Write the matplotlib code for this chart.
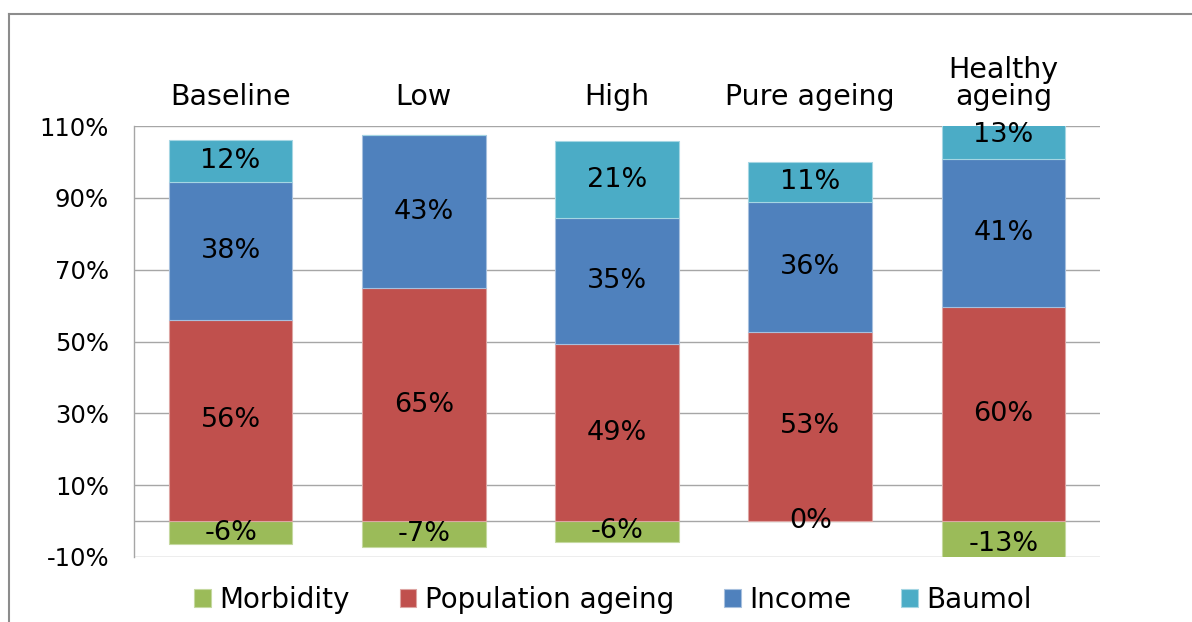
import matplotlib
matplotlib.use("Agg")
import matplotlib.pyplot as plt
from matplotlib.lines import Line2D
import numpy as np

categories = ["Baseline", "Low", "High", "Pure ageing", "Healthy\nageing"]
morbidity = [-6.4, -7.3, -5.7, 0.0, -13.0]
population_ageing = [56.1, 64.8, 49.2, 52.7, 59.7]
income = [38.3, 42.6, 35.2, 36.2, 41.2]
baumol = [11.8, np.nan, 21.3, 11.2, 13.0]
series_names = ["Morbidity", "Population ageing", "Income", "Baumol"]
colors = ["#9BBB59", "#C0504D", "#4F81BD", "#4BACC6"]
yticks = [-10, 10, 30, 50, 70, 90, 110]

plt.rcParams['font.family'] = ['DejaVu Sans']

fig = plt.figure(figsize=(11.92, 6.22), dpi=100)
ax = fig.add_axes([134/1192, 1 - 557/622, 966/1192, 431/622])

x = np.arange(len(categories))
w = 0.64

mb = ax.bar(x, morbidity, w, color=colors[0], edgecolor="#C5D9A0", linewidth=0.8, zorder=3,
            label=series_names[0])
pa = ax.bar(x, population_ageing, w, color=colors[1], edgecolor="#DDA5A3", linewidth=0.8, zorder=3,
            label=series_names[1])
base2 = np.array(population_ageing)
inc = ax.bar(x, income, w, bottom=base2, color=colors[2], edgecolor="#A7C0DE", linewidth=0.8, zorder=3,
             label=series_names[2])
base3 = base2 + np.array(income)
bm_vals = np.nan_to_num(np.array(baumol))
bm = ax.bar(x, bm_vals, w, bottom=base3, color=colors[3], edgecolor="#A5D6E3", linewidth=0.8, zorder=3,
            label=series_names[3])

lab_fs = 19.5
for i in range(len(categories)):
    ax.text(x[i], morbidity[i] / 2, f"{round(morbidity[i]):.0f}%", ha="center", va="center",
            fontsize=lab_fs, zorder=5, clip_on=False)
    ax.text(x[i], population_ageing[i] / 2, f"{round(population_ageing[i]):.0f}%", ha="center",
            va="center", fontsize=lab_fs, zorder=5)
    ax.text(x[i], base2[i] + income[i] / 2, f"{round(income[i]):.0f}%", ha="center",
            va="center", fontsize=lab_fs, zorder=5)
    if not np.isnan(baumol[i]):
        ax.text(x[i], base3[i] + baumol[i] / 2, f"{round(baumol[i]):.0f}%", ha="center",
                va="center", fontsize=lab_fs, zorder=5, clip_on=False)

ax.set_ylim(-10, 110)
ax.set_xlim(-0.5, len(categories) - 0.5)
ax.set_yticks(yticks)
ax.set_yticklabels([f"{t}%" for t in yticks], fontsize=17.5)
ax.tick_params(axis="y", length=0, pad=18)
for t in yticks + [0]:
    ax.axhline(t, color="#A6A6A6", linewidth=1.0, zorder=1)

ax.xaxis.tick_top()
ax.set_xticks(x)
ax.set_xticklabels(categories, fontsize=20.5, linespacing=0.95)
ax.tick_params(axis="x", length=0, pad=11)

for s in ["top", "right", "bottom"]:
    ax.spines[s].set_visible(False)
ax.spines["left"].set_color("#A6A6A6")
ax.spines["left"].set_linewidth(1.0)

leg = fig.legend(handles=[mb, pa, inc, bm], labels=series_names, loc="center",
                 bbox_to_anchor=(613/1192, 1 - 600/622), ncol=4, frameon=False,
                 fontsize=20, handlelength=0.6, handleheight=0.6, handletextpad=0.3,
                 columnspacing=1.8)

fig.add_artist(Line2D([9/1192, 9/1192], [0, 1 - 14/622], transform=fig.transFigure,
                      color="#8C8C8C", linewidth=1.5))
fig.add_artist(Line2D([9/1192, 1], [1 - 14/622, 1 - 14/622], transform=fig.transFigure,
                      color="#8C8C8C", linewidth=1.5))

fig.savefig("out.png", dpi=100)
